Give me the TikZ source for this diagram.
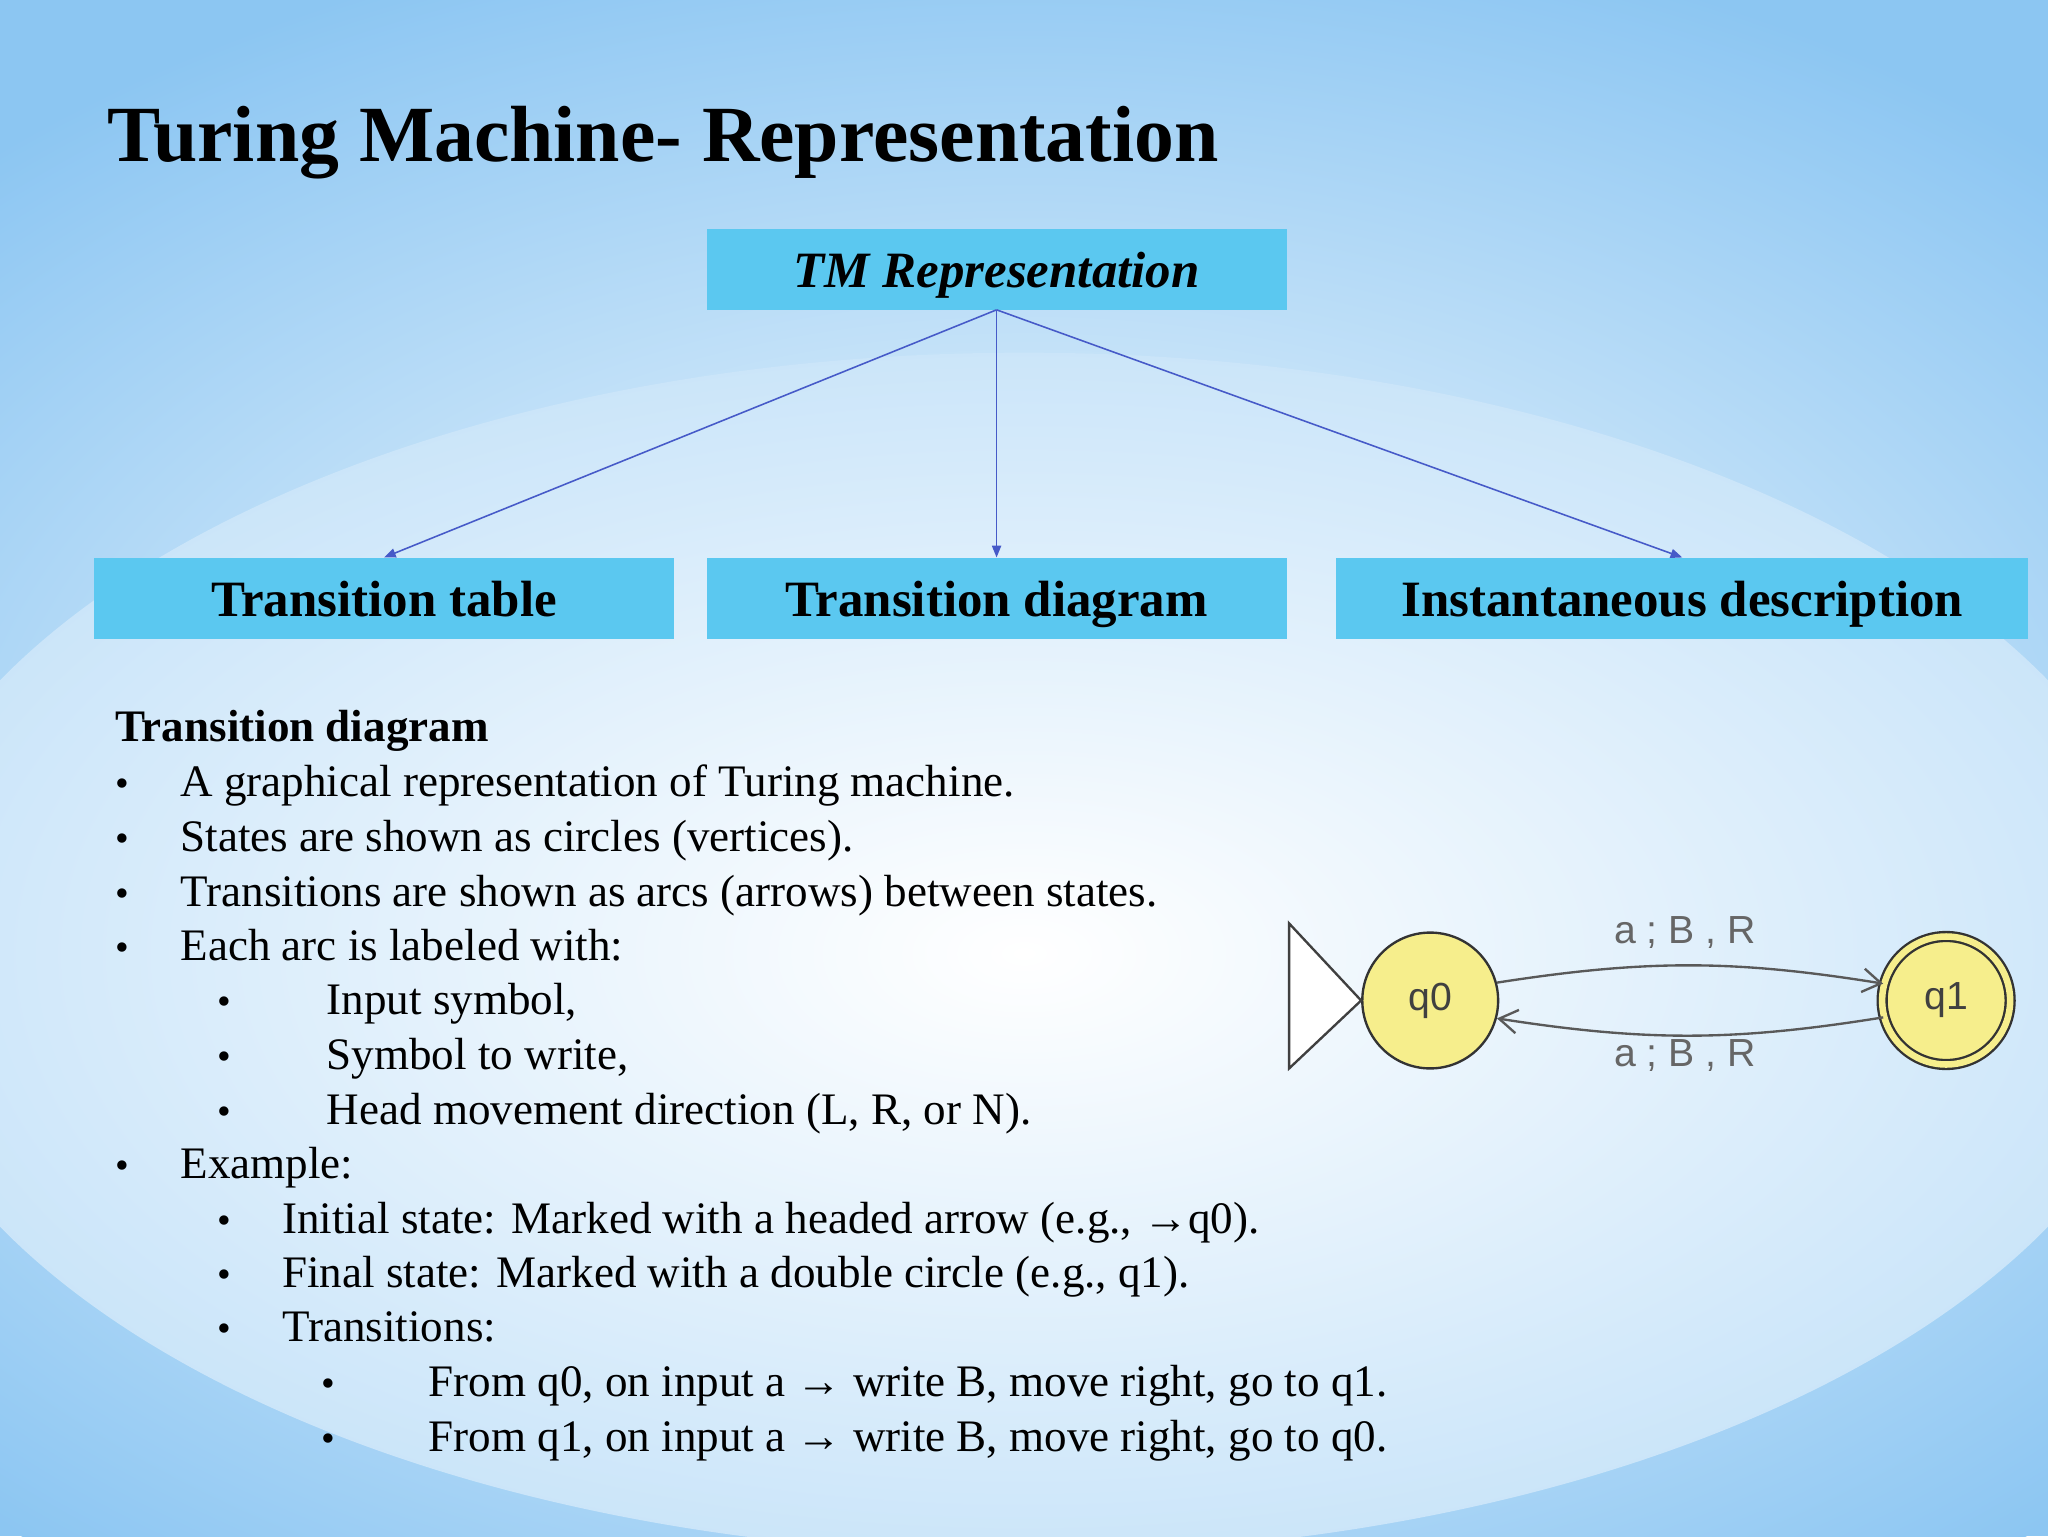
\documentclass[tikz,border=0pt]{standalone}
\usepackage{fontspec}
\setmainfont{Liberation Serif}
\newfontfamily\lsans{Liberation Sans}
\usetikzlibrary{arrows.meta}
\definecolor{bgblue}{RGB}{140,198,242}
\definecolor{boxblue}{RGB}{91,200,240}
\definecolor{arrblue}{RGB}{70,90,200}
\definecolor{stfill}{RGB}{246,238,140}
\tikzset{
 x=1pt,y=-1pt,
 catbox/.style={fill=boxblue,minimum height=62pt,inner sep=0pt,text height=33pt,text depth=5pt,font=\fontsize{39}{42}\selectfont\bfseries},
 conn/.style={draw=arrblue,line width=1.2pt,-{Triangle[length=9pt,width=7pt]}},
 txt/.style={anchor=base west,inner sep=0pt,font=\fontsize{34.5}{38}\selectfont},
 bul/.style={anchor=base west,inner sep=0pt,font=\fontsize{30}{34}\selectfont},
 state/.style={circle,draw=black!80,line width=1.8pt,fill=stfill,minimum size=104pt,font=\lsans\fontsize{30}{32}\selectfont,text=black!75},
 trans/.style={draw=black!65,line width=1.8pt,-{Straight Barb[length=14pt,width=18pt]}},
 lab/.style={font=\lsans\fontsize{30}{32}\selectfont,text=black!60}
}
\begin{document}
\begin{tikzpicture}
\fill[bgblue] (0,0) rectangle (1568,1176);
\begin{scope}
\clip (0,0) rectangle (1568,1176);
\shade[inner color=white,outer color=bgblue] (784,640) ellipse [x radius=1150pt,y radius=720pt];
\shade[inner color=white,outer color=bgblue!45!white] (784,730) ellipse [x radius=880pt,y radius=460pt];
\end{scope}
\useasboundingbox (0,0) rectangle (1568,1176);
\node[anchor=base west,inner sep=0pt,font=\fontsize{61}{66}\selectfont\bfseries] (title) at (82,124) {Turing Machine- Representation};
\node[catbox,minimum width=444pt,font=\fontsize{39}{42}\selectfont\bfseries\itshape] (tm) at (763,206) {TM Representation};
\node[catbox,minimum width=444pt] (tt) at (294,458) {Transition table};
\node[catbox,minimum width=444pt] (td) at (763,458) {Transition diagram};
\node[catbox,minimum width=530pt] (id) at (1288,458) {Instantaneous description};
\draw[conn] (tm.south) -- (tt.north);
\draw[conn] (tm.south) -- (td.north);
\draw[conn] (tm.south) -- (id.north);
\node[txt,font=\fontsize{34.5}{38}\selectfont\bfseries] (h) at (88,568) {Transition diagram};
\foreach \y/\t [count=\i] in {610/A graphical representation of Turing machine.,652/States are shown as circles (vertices).,694/Transitions are shown as arcs (arrows) between states.,735/Each arc is labeled with:,902/Example:}{
 \node[bul] (b\i) at (88,\y) {•};
 \node[txt] (t\i) at (138,\y) {\t};
}
\foreach \y/\t [count=\i] in {777/{Input symbol,},819/{Symbol to write,},861/{Head movement direction (L, R, or N).}}{
 \node[bul] (c\i) at (166,\y) {•};
 \node[txt] (u\i) at (250,\y) {\t};
}
\foreach \y/\t [count=\i] in {944/{Initial state: Marked with a headed arrow (e.g., →q0).},986/{Final state: Marked with a double circle (e.g., q1).},1027/{Transitions:}}{
 \node[bul] (d\i) at (166,\y) {•};
 \node[txt] (v\i) at (216,\y) {\t};
}
\foreach \y/\t [count=\i] in {1069/{From q0, on input a → write B, move right, go to q1.},1111/{From q1, on input a → write B, move right, go to q0.}}{
 \node[bul] (e\i) at (246,\y) {•};
 \node[txt] (w\i) at (328,\y) {\t};
}
% state diagram
\node[state] (q0) at (1095,766) {q0};
\node[state,double=stfill,double distance=5pt,minimum size=98pt] (q1) at (1490,766) {q1};
\draw[draw=black!75,line width=1.8pt,fill=white] (q0.west) -- (987,707) -- (987,818) -- cycle;
\draw[trans] (q0.15) to[bend left=9] (q1.165);
\draw[trans] (q1.195) to[bend left=9] (q0.345);
\node[lab] (l1) at (1290,714) {a ; B , R};
\node[lab] (l2) at (1290,808) {a ; B , R};
\end{tikzpicture}
\end{document}
